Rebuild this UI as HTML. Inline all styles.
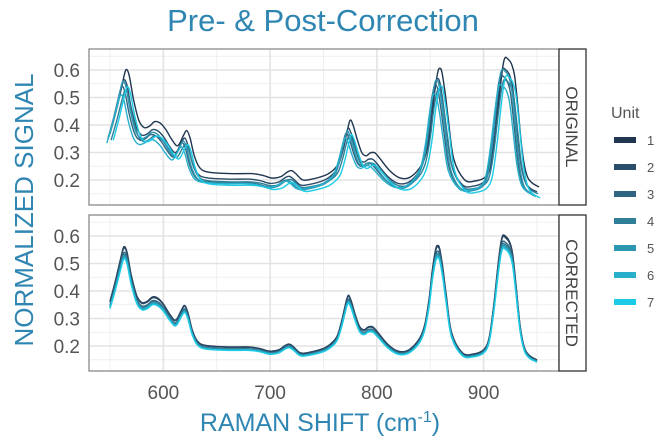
<!DOCTYPE html>
<html><head><meta charset="utf-8">
<style>
html,body{margin:0;padding:0;background:#fff;}
svg{display:block;font-family:"Liberation Sans",sans-serif;}
</style></head>
<body>
<svg id="chart" width="672" height="448" viewBox="0 0 672 448">
<text x="323" y="31" text-anchor="middle" font-size="31" fill="#2f86b3">Pre- &amp; Post-Correction</text>
<text transform="translate(33,210) rotate(-90)" text-anchor="middle" font-size="26" fill="#2f86b3">NORMALIZED SIGNAL</text>
<text x="320" y="431" text-anchor="middle" font-size="25" fill="#2f86b3">RAMAN SHIFT (cm<tspan font-size="16" dy="-9">-1</tspan><tspan dy="9">)</tspan></text>
<g id="plots"></g>
<g id="legend">
<text x="611" y="118" font-size="16" fill="#555">Unit</text>
</g>
</svg>
<script>
const xs=[550,555,560,563,566,570,575,580,585,590,595,600,605,610,613,617,620,623,627,632,640,660,680,690,700,708,714,718,722,728,735,750,758,763,767,770,773,776,780,784,788,792,796,800,810,820,830,840,845,849,852,855,857,859,862,865,870,880,890,900,905,909,913,916,918,921,924,927,930,934,938,943,950];
const ys=[.35,.42,.50,.54,.52,.44,.37,.345,.35,.365,.36,.34,.31,.285,.29,.32,.335,.31,.25,.21,.195,.19,.19,.185,.175,.18,.195,.2,.19,.17,.17,.185,.205,.23,.28,.33,.37,.35,.30,.26,.25,.26,.26,.245,.2,.175,.18,.22,.27,.36,.46,.53,.545,.53,.46,.37,.24,.17,.165,.18,.22,.32,.46,.55,.58,.575,.56,.52,.42,.27,.19,.16,.145];
const units=['1','2','3','4','5','6','7'];
const colors=['#1f3550','#2a4d6a','#2f6580','#2f7f98','#2d97b2','#27afcb','#1ccbe5'];
const origShift=[2,0,-2,1,-1,-3,3];
const origScale=[1.08,1.03,1.0,0.95,1.06,0.92,1.02];
const origOffset=[0.03,0.012,0.0,0.005,-0.005,0.0,-0.01];
const corrScale=[1.04,1.03,1.0,0.98,0.97,0.96,0.95];
const corrOffset=[0.005,0.004,0.0,0,-0.002,-0.003,-0.004];
const xTicks=[600,700,800,900];
const yTicks=[0.2,0.3,0.4,0.5,0.6];
const panels=[{name:'ORIGINAL',top:49,bot:205,shift:origShift,scale:origScale,off:origOffset},
 {name:'CORRECTED',top:215,bot:371,shift:[0,0,0,0,0,0,0],scale:corrScale,off:corrOffset}];
const NS='http://www.w3.org/2000/svg';
const L=89,R=559;
const xS=v=>110+(v-550)*(537-110)/400;
function mk(t,a,p){const e=document.createElementNS(NS,t);for(const k in a)e.setAttribute(k,a[k]);(p||document.getElementById('plots')).appendChild(e);return e;}
function smooth(pts){let d='M'+pts[0][0].toFixed(1)+','+pts[0][1].toFixed(1);
 for(let i=0;i<pts.length-1;i++){const p0=pts[i-1]||pts[i],p1=pts[i],p2=pts[i+1],p3=pts[i+2]||p2;
 const c1=[p1[0]+(p2[0]-p0[0])/6,p1[1]+(p2[1]-p0[1])/6],c2=[p2[0]-(p3[0]-p1[0])/6,p2[1]-(p3[1]-p1[1])/6];
 d+='C'+c1[0].toFixed(1)+','+c1[1].toFixed(1)+' '+c2[0].toFixed(1)+','+c2[1].toFixed(1)+' '+p2[0].toFixed(1)+','+p2[1].toFixed(1);}
 return d;}
panels.forEach((P,pi)=>{
 const yS=v=>(P.top+21)+(0.6-v)*(110/0.4);
 const g=mk('g',{});
 
 
 [550,650,750,850,950].forEach(v=>{const l=mk('line',{x1:xS(v),x2:xS(v),y1:P.top,y2:P.bot,stroke:'#efefef','stroke-width':1},g);});
 [0.15,0.25,0.35,0.45,0.55,0.65].forEach(v=>{const l=mk('line',{x1:L,x2:R,y1:yS(v),y2:yS(v),stroke:'#efefef','stroke-width':1},g);});
 xTicks.forEach(v=>{const l=mk('line',{x1:xS(v),x2:xS(v),y1:P.top,y2:P.bot,stroke:'#e3e3e3','stroke-width':1.6},g);});
 yTicks.forEach(v=>{const l=mk('line',{x1:L,x2:R,y1:yS(v),y2:yS(v),stroke:'#e3e3e3','stroke-width':1.6},g);
  const t=mk('text',{x:80,y:yS(v)+7,'text-anchor':'end','font-size':19,fill:'#555'},g);t.textContent=v.toFixed(1);});
 units.forEach((u,i)=>{
  const pts=xs.map((x,k)=>[xS(x+P.shift[i]),yS(P.off[i]+0.15+P.scale[i]*(ys[k]-0.15))]);
  const p=mk('path',{d:smooth(pts),fill:'none',stroke:colors[i],'stroke-width':1.4},g);
  
  
 });
 const b=mk('rect',{x:L,y:P.top,width:R-L,height:P.bot-P.top,fill:'none',stroke:'#8a8a8a','stroke-width':1.3},g);
 
 
 const s=mk('rect',{x:559,y:P.top,width:27,height:P.bot-P.top,fill:'#fff',stroke:'#333','stroke-width':1.3},g);
 
 
 const st=mk('text',{transform:'translate(566,'+((P.top+P.bot)/2)+') rotate(90)','text-anchor':'middle','font-size':17,fill:'#444'},g);
 st.textContent=P.name;
 
 
 if(pi===1){xTicks.forEach(v=>{const t=mk('text',{x:xS(v),y:399,'text-anchor':'middle','font-size':19,fill:'#555'},g);t.textContent=v;});}
});
const lg=document.getElementById('legend');
units.forEach((u,i)=>{
 const y=140+i*27;
 const r=mk('rect',{x:614,y:y-3,width:22,height:6,fill:colors[i]},lg);
 
 
 const t=mk('text',{x:647,y:y+5,'font-size':13,fill:'#555'},lg);
 t.textContent=u;
 
 
});
</script>
</body></html>
